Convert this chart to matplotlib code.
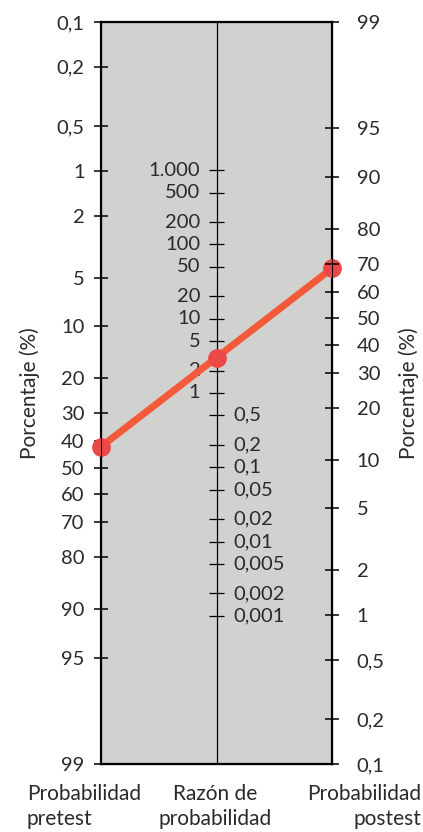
import numpy as np
import matplotlib.pyplot as plt

plt.rcParams['font.family'] = ['Lato', 'DejaVu Sans']

# escalas del nomograma de Fagan
pre_ticks = [0.1, 0.2, 0.5, 1, 2, 5, 10, 20, 30, 40, 50, 60, 70, 80, 90, 95, 99]
pre_labels = ['0,1', '0,2', '0,5', '1', '2', '5', '10', '20', '30', '40',
              '50', '60', '70', '80', '90', '95', '99']
post_ticks = [99, 95, 90, 80, 70, 60, 50, 40, 30, 20, 10, 5, 2, 1, 0.5, 0.2, 0.1]
post_labels = ['99', '95', '90', '80', '70', '60', '50', '40', '30', '20',
               '10', '5', '2', '1', '0,5', '0,2', '0,1']
lr_high = [1000, 500, 200, 100, 50, 20, 10, 5, 2, 1]
lr_high_labels = ['1.000', '500', '200', '100', '50', '20', '10', '5', '2', '1']
lr_low = [0.5, 0.2, 0.1, 0.05, 0.02, 0.01, 0.005, 0.002, 0.001]
lr_low_labels = ['0,5', '0,2', '0,1', '0,05', '0,02', '0,01', '0,005', '0,002', '0,001']

# ejemplo marcado
pretest = 42
lr = 3
posttest = 68.5


def logit(p):
    p = np.asarray(p, dtype=float) / 100
    return np.log(p / (1 - p))


top = logit(0.1)
bottom = logit(99)
shift = top + bottom


def pos_pre(p):
    return logit(p)


def pos_post(p):
    return shift - logit(p)


def pos_lr(r):
    return shift / 2 - np.log(np.asarray(r, dtype=float)) / 2


W, H = 423, 832
txt = '#2a2a2a'
fs = 14.5
fs2 = 15

fig = plt.figure(figsize=(W / 100, H / 100), dpi=100)
ax = fig.add_axes([101 / W, 1 - 764 / H, 231 / W, 742 / H])
ax.set_facecolor('#d1d1cf')
ax.set_xlim(0, 2)
ax.set_ylim(bottom, top)
ax.set_xticks([])
for s in ax.spines.values():
    s.set_linewidth(1.6)

ax.set_yticks(pos_pre(pre_ticks), pre_labels)
ax.tick_params(axis='y', direction='inout', length=9.5, width=1.1,
               pad=7, labelsize=fs, labelcolor=txt)

ax2 = ax.twinx()
ax2.set_ylim(ax.get_ylim())
ax2.set_yticks(pos_post(post_ticks), post_labels)
ax2.tick_params(axis='y', direction='inout', length=9.5, width=1.1,
                pad=13, labelsize=fs, labelcolor=txt)
ax2.set_xticks([])

# eje central: razon de probabilidad
ax.axvline(1, color='k', lw=0.9)
ax.hlines(pos_lr(lr_high + lr_low), 1 - 0.065, 1 + 0.065, color='k', lw=0.9)
for v, lab in zip(lr_high, lr_high_labels):
    ax.text(1 - 0.14, pos_lr(v), lab, ha='right', va='center', fontsize=fs, color=txt)
for v, lab in zip(lr_low, lr_low_labels):
    ax.text(1 + 0.145, pos_lr(v), lab, ha='left', va='center', fontsize=fs, color=txt)

ax.plot([0, 1, 2], [pos_pre(pretest), pos_lr(lr), pos_post(posttest)],
        color='#f45a3a', lw=5, marker='o', ms=12.5,
        markerfacecolor='#ec4848', markeredgecolor='#ec4848',
        clip_on=False, zorder=5)

fig.text(30 / W, 1 - 393 / H, 'Porcentaje (%)', rotation=90, ha='center', va='center',
         fontsize=fs2, color=txt)
fig.text(409 / W, 1 - 393 / H, 'Porcentaje (%)', rotation=90, ha='center', va='center',
         fontsize=fs2, color=txt)

fig.text(27 / W, 1 - 784 / H, 'Probabilidad\npretest', ha='left', va='top',
         fontsize=fs2, color=txt, linespacing=1.3)
fig.text(215 / W, 1 - 784 / H, 'Razón de\nprobabilidad', ha='center', va='top',
         multialignment='center', fontsize=fs2, color=txt, linespacing=1.3)
fig.text(421 / W, 1 - 784 / H, 'Probabilidad\npostest', ha='right', va='top',
         multialignment='right', fontsize=fs2, color=txt, linespacing=1.3)

fig.savefig('out.png', dpi=100)
